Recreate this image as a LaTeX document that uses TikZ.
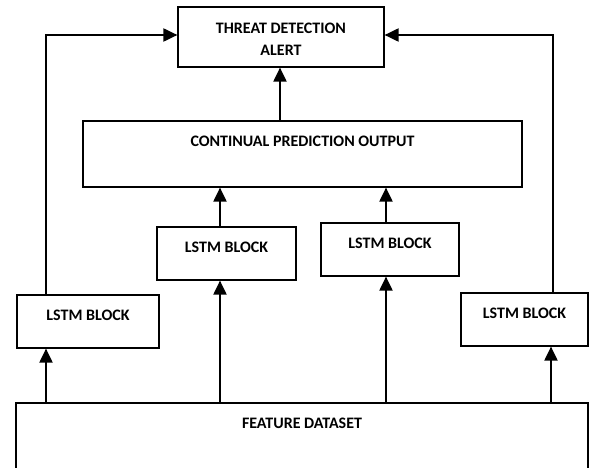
\documentclass[tikz,border=0pt]{standalone}
\usepackage{fontspec}
\setmainfont{Carlito}
\usetikzlibrary{arrows.meta}
\begin{document}
\begin{tikzpicture}[x=1pt,y=-1pt,
 box/.style={draw,line width=1.2pt,inner sep=0pt,anchor=center},
 txt/.style={font=\bfseries\fontsize{16}{22}\selectfont,inner sep=0pt,align=center},
 arr/.style={line width=2pt,-{Triangle[width=13pt,length=14pt]}}]
\useasboundingbox (0,0) rectangle (590,468);
\clip (0,0) rectangle (590,468);
\fill[white] (0,0) rectangle (590,468);
% boxes
\node[box,minimum width=206pt,minimum height=60pt] (thr) at (281,37) {};
\node[txt] (thrT) at ([yshift=-2pt]thr.center) {THREAT DETECTION\\ALERT};
\node[box,minimum width=439pt,minimum height=66pt] (cont) at (302.5,154) {};
\node[txt] (contT) at ([yshift=-21pt]cont.north) {CONTINUAL PREDICTION OUTPUT};
\node[box,minimum width=139pt,minimum height=53pt] (ml) at (226.5,253.5) {};
\node[txt] (mlT) at ([yshift=-21pt]ml.north) {LSTM BLOCK};
\node[box,minimum width=138pt,minimum height=53pt] (mr) at (390,249.5) {};
\node[txt] (mrT) at ([yshift=-21pt]mr.north) {LSTM BLOCK};
\node[box,minimum width=142pt,minimum height=53pt] (lb) at (88,321.5) {};
\node[txt] (lbT) at ([yshift=-21pt]lb.north) {LSTM BLOCK};
\node[box,minimum width=127pt,minimum height=53pt] (rb) at (524.5,319.5) {};
\node[txt] (rbT) at ([yshift=-21pt]rb.north) {LSTM BLOCK};
\node[box,minimum width=572pt,minimum height=120pt] (feat) at (302,463) {};
\node[txt] (featT) at ([yshift=-21pt]feat.north) {FEATURE DATASET};
% connectors
\coordinate (c1) at ([xshift=-22.5pt]cont.north);
\draw[arr] (c1) -- (c1 |- thr.south);
\coordinate (m1) at ([xshift=-6.5pt]ml.south);
\coordinate (m2) at ([xshift=-6.5pt]ml.north);
\draw[arr] (m1 |- feat.north) -- (m1);
\draw[arr] (m2) -- (m2 |- cont.south);
\coordinate (r1) at ([xshift=-4pt]mr.south);
\coordinate (r2) at ([xshift=-4pt]mr.north);
\draw[arr] (r1 |- feat.north) -- (r1);
\draw[arr] (r2) -- (r2 |- cont.south);
\coordinate (l1) at ([xshift=-42pt]lb.south);
\coordinate (l2) at ([xshift=-42pt]lb.north);
\draw[arr] (l1 |- feat.north) -- (l1);
\draw[arr] (l2) |- ([yshift=2pt]thr.west);
\coordinate (q1) at ([xshift=26.5pt]rb.south);
\coordinate (q2) at ([xshift=28.5pt]rb.north);
\draw[arr] (q1 |- feat.north) -- (q1);
\draw[arr] (q2) |- ([yshift=2pt]thr.east);
\end{tikzpicture}
\end{document}
